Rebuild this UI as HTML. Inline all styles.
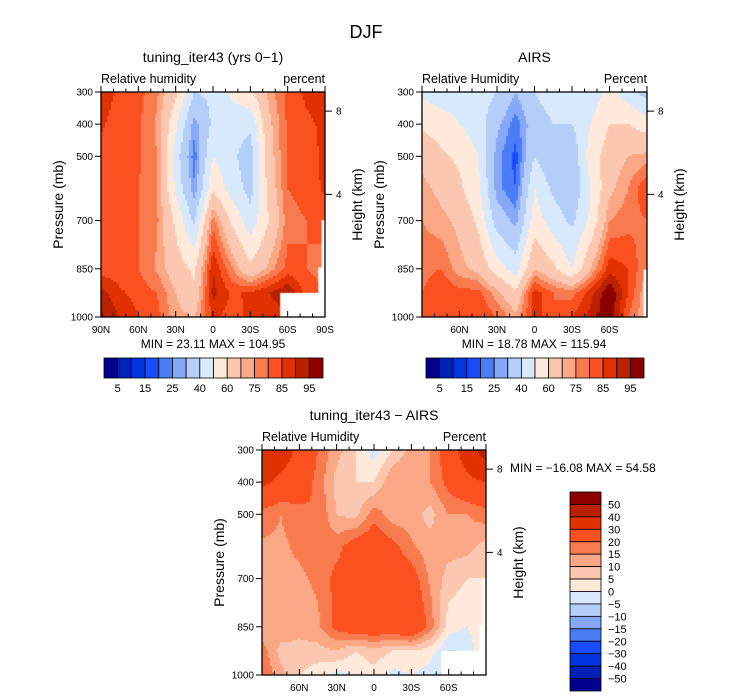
<!DOCTYPE html>
<html><head><meta charset="utf-8">
<style>
body{margin:0;background:#fff;width:733px;height:699px;overflow:hidden;position:relative;font-family:"Liberation Sans",sans-serif;}
canvas{position:absolute;}
svg{position:absolute;left:0;top:0;}
text{font-family:"Liberation Sans",sans-serif;fill:#000;}
</style></head>
<body>
<canvas id="c1" width="224" height="225" style="left:101px;top:92px"></canvas>
<canvas id="c2" width="225" height="225" style="left:422px;top:92px"></canvas>
<canvas id="c3" width="224" height="225" style="left:262px;top:450px"></canvas>
<svg id="s" width="733" height="699"></svg>
<script>
const pressures=[300,400,500,600,700,850,925,1000];
const lats=[90,75,60,45,30,15,0,-15,-30,-45,-60,-75,-90];
const model=[
[88,84,82,76,62,40,42,52,58,72,82,86,88],
[86,82,81,74,52,27,42,44,42,68,81,84,86],
[83,81,81,75,45,22,50,42,35,66,81,83,86],
[82,81,80,76,48,26,58,46,36,64,80,82,86],
[82,81,80,76,58,38,78,58,44,60,78,80,82],
[82,82,80,74,65,58,90,76,62,72,82,80,78],
[92,86,83,80,70,62,92,84,86,90,95,83,80],
[96,90,85,82,72,70,86,83,86,86,88,83,80]];
const airs=[
[48,45,45,45,40,30,40,45,45,45,52,45,35],
[58,55,50,45,32,22,35,40,40,50,60,60,55],
[68,62,58,50,27,18,40,30,32,55,65,70,72],
[72,68,62,52,27,20,50,38,32,50,68,75,85],
[75,72,68,58,35,28,55,45,38,52,75,78,80],
[78,80,72,68,55,45,70,62,50,70,88,85,75],
[80,85,82,82,72,62,88,80,78,88,100,85,70],
[80,85,85,85,80,72,88,80,85,92,100,80,70]];
const diff=[
[40,35,28,20,12,5,-3,5,12,15,25,35,45],
[32,28,25,18,8,5,5,15,15,15,22,28,30],
[18,15,18,20,10,8,18,12,12,8,15,15,18],
[14,14,16,18,18,24,26,22,16,12,12,12,8],
[12,14,14,16,22,26,28,26,24,14,8,5,5],
[10,14,12,14,22,26,27,26,30,18,2,0,5],
[18,8,8,8,10,5,8,5,5,2,-5,-5,8],
[20,12,5,2,-2,0,3,-2,0,-2,-8,0,10]];
const levAbs=[5,10,15,20,25,30,40,50,60,70,75,80,85,90,95];
const levDiff=[-50,-40,-30,-20,-15,-10,-5,0,5,10,15,20,30,40,50];
const absLabels=["5","15","25","40","60","75","85","95"];
const diffLabels=["50","40","30","20","15","10","5","0","\u22125","\u221210","\u221215","\u221220","\u221230","\u221240","\u221250"];
const pTicks=[300,400,500,700,850,1000];
const colors=["#02008c","#0022b4","#0035df","#1a4cff","#4a7df6","#86a8f6","#b5cdf9","#d9e9fc","#ffe9da","#fcc7b0","#f9a784","#f77b4f","#fb5020","#e03200","#b92100","#8c0000"];

function yFrac(p){return (p-300)/700;}
function interp(grid,xf,yf){
  const lat=90-180*xf, p=300+700*yf;
  let j=0;while(j<lats.length-2&&lat<lats[j+1])j++;
  let i=0;while(i<pressures.length-2&&p>pressures[i+1])i++;
  const tx=(lats[j]-lat)/(lats[j]-lats[j+1]);
  const ty=(p-pressures[i])/(pressures[i+1]-pressures[i]);
  const a=grid[i][j]*(1-tx)+grid[i][j+1]*tx;
  const b=grid[i+1][j]*(1-tx)+grid[i+1][j+1]*tx;
  return a*(1-ty)+b*ty;
}
function colorFor(v,lev){let k=0;while(k<lev.length&&v>=lev[k])k++;return colors[k];}
function drawField(id,grid,lev,masks){
  const c=document.getElementById(id),ctx=c.getContext('2d');
  const W=c.width,H=c.height;
  for(let y=0;y<H;y+=2)for(let x=0;x<W;x+=2){
    ctx.fillStyle=colorFor(interp(grid,(x+1)/W,(y+1)/H),lev);
    ctx.fillRect(x,y,2,2);
  }
  ctx.fillStyle="#fff";
  masks.forEach(m=>ctx.fillRect(m[0]*W,m[1]*H,(m[2]-m[0])*W,(m[3]-m[1])*H));
}
drawField('c1',model,levAbs,[[0.80,0.893,1,1],[0.97,0.78,1,1],[0.985,0.57,1,1]]);
drawField('c2',airs,levAbs,[[0.985,0.79,1,1]]);
drawField('c3',diff,levDiff,[[0.80,0.893,1,1],[0.97,0.78,1,1],[0.985,0.57,1,1]]);

const S=document.getElementById('s');const NS="http://www.w3.org/2000/svg";
function el(tag,attrs,txt){const e=document.createElementNS(NS,tag);for(const k in attrs)e.setAttribute(k,attrs[k]);if(txt!==undefined)e.textContent=txt;S.appendChild(e);return e;}
function T(x,y,s,size,anchor,name,extra){const e=el('text',Object.assign({x:x,y:y,'font-size':size,'text-anchor':anchor||'middle'},extra||{}),s);

return e;}

const t0=T(366,38,"DJF",18,'middle','figure-title');t0.setAttribute('fill','#444');

function panel(x0,y0,w,h,title,left,right,latLabels){
  T(x0+w/2,y0-30,title,14,'middle','panel-title');
  T(x0,y0-9,left,12.5,'start','variable-label');
  T(x0+w,y0-9,right,12.5,'end','units-label');
  const r=el('rect',{x:x0,y:y0,width:w,height:h,fill:'none',stroke:'#000','stroke-width':1.3});
  
  
  for(let d=-90;d<=90;d+=10){
    const x=x0+w*(90-d)/180,len=(d%30===0)?6:3.5;
    el('line',{x1:x,y1:y0,x2:x,y2:y0-len,stroke:'#000','stroke-width':1});
    el('line',{x1:x,y1:y0+h,x2:x,y2:y0+h-len,stroke:'#000','stroke-width':1});
  }
  pTicks.forEach(p=>{const y=y0+h*yFrac(p);
    el('line',{x1:x0,y1:y,x2:x0-6,y2:y,stroke:'#000'});
    T(x0-8,y+3.5,String(p),10,'end','pressure-tick-label');});
  [[8,0.085],[4,0.455]].forEach(a=>{const y=y0+h*a[1];
    el('line',{x1:x0+w,y1:y,x2:x0+w+7,y2:y,stroke:'#000'});
    T(x0+w+11,y+3.5,String(a[0]),10,'start','height-tick-label');});
  latLabels.forEach(l=>{T(x0+w*(90-l[0])/180,y0+h+16,l[1],10,'middle','latitude-tick-label');});
  const yt=T(x0-38,y0+h/2,"Pressure (mb)",14,'middle','y-axis-title');yt.setAttribute('transform',`rotate(-90 ${x0-38} ${y0+h/2})`);
  const ht=T(x0+w+37,y0+h/2,"Height (km)",14,'middle','height-axis-title');ht.setAttribute('transform',`rotate(-90 ${x0+w+37} ${y0+h/2})`);
}
const full=[[90,"90N"],[60,"60N"],[30,"30N"],[0,"0"],[-30,"30S"],[-60,"60S"],[-90,"90S"]];
const inner=[[60,"60N"],[30,"30N"],[0,"0"],[-30,"30S"],[-60,"60S"]];
panel(101,92,224,225,"tuning_iter43 (yrs 0\u22121)","Relative humidity","percent",full);
panel(422,92,225,225,"AIRS","Relative Humidity","Percent",inner);
panel(262,450,224,225,"tuning_iter43 \u2212 AIRS","Relative Humidity","Percent",inner);

T(213,348,"MIN =  23.11   MAX = 104.95",12,'middle','min-max-label');
T(534,348,"MIN =  18.78   MAX = 115.94",12,'middle','min-max-label');
T(510,472,"MIN = \u221216.08   MAX =  54.58",12,'start','min-max-label');

function hbar(x0,y0,w,h){
  const bw=w/16;
  for(let k=0;k<16;k++){const r=el('rect',{x:x0+k*bw,y:y0,width:bw,height:h,fill:colors[k],stroke:'#000','stroke-width':0.8});
    
    }
  absLabels.forEach((s,i)=>T(x0+(2*i+1)*bw,y0+h+14,s,11,'middle','colorbar-label'));
}
hbar(104,358,219,20);
hbar(426,358,218,20);
(function vbar(x0,y0,w,h){
  const bh=h/16;
  for(let k=0;k<16;k++){const r=el('rect',{x:x0,y:y0+k*bh,width:w,height:bh,fill:colors[15-k],stroke:'#000','stroke-width':0.8});
    
    }
  diffLabels.forEach((s,i)=>T(x0+w+7,y0+(i+1)*bh+4,s,11,'start','colorbar-label'));
})(570,492,31,199);
</script>
</body></html>
